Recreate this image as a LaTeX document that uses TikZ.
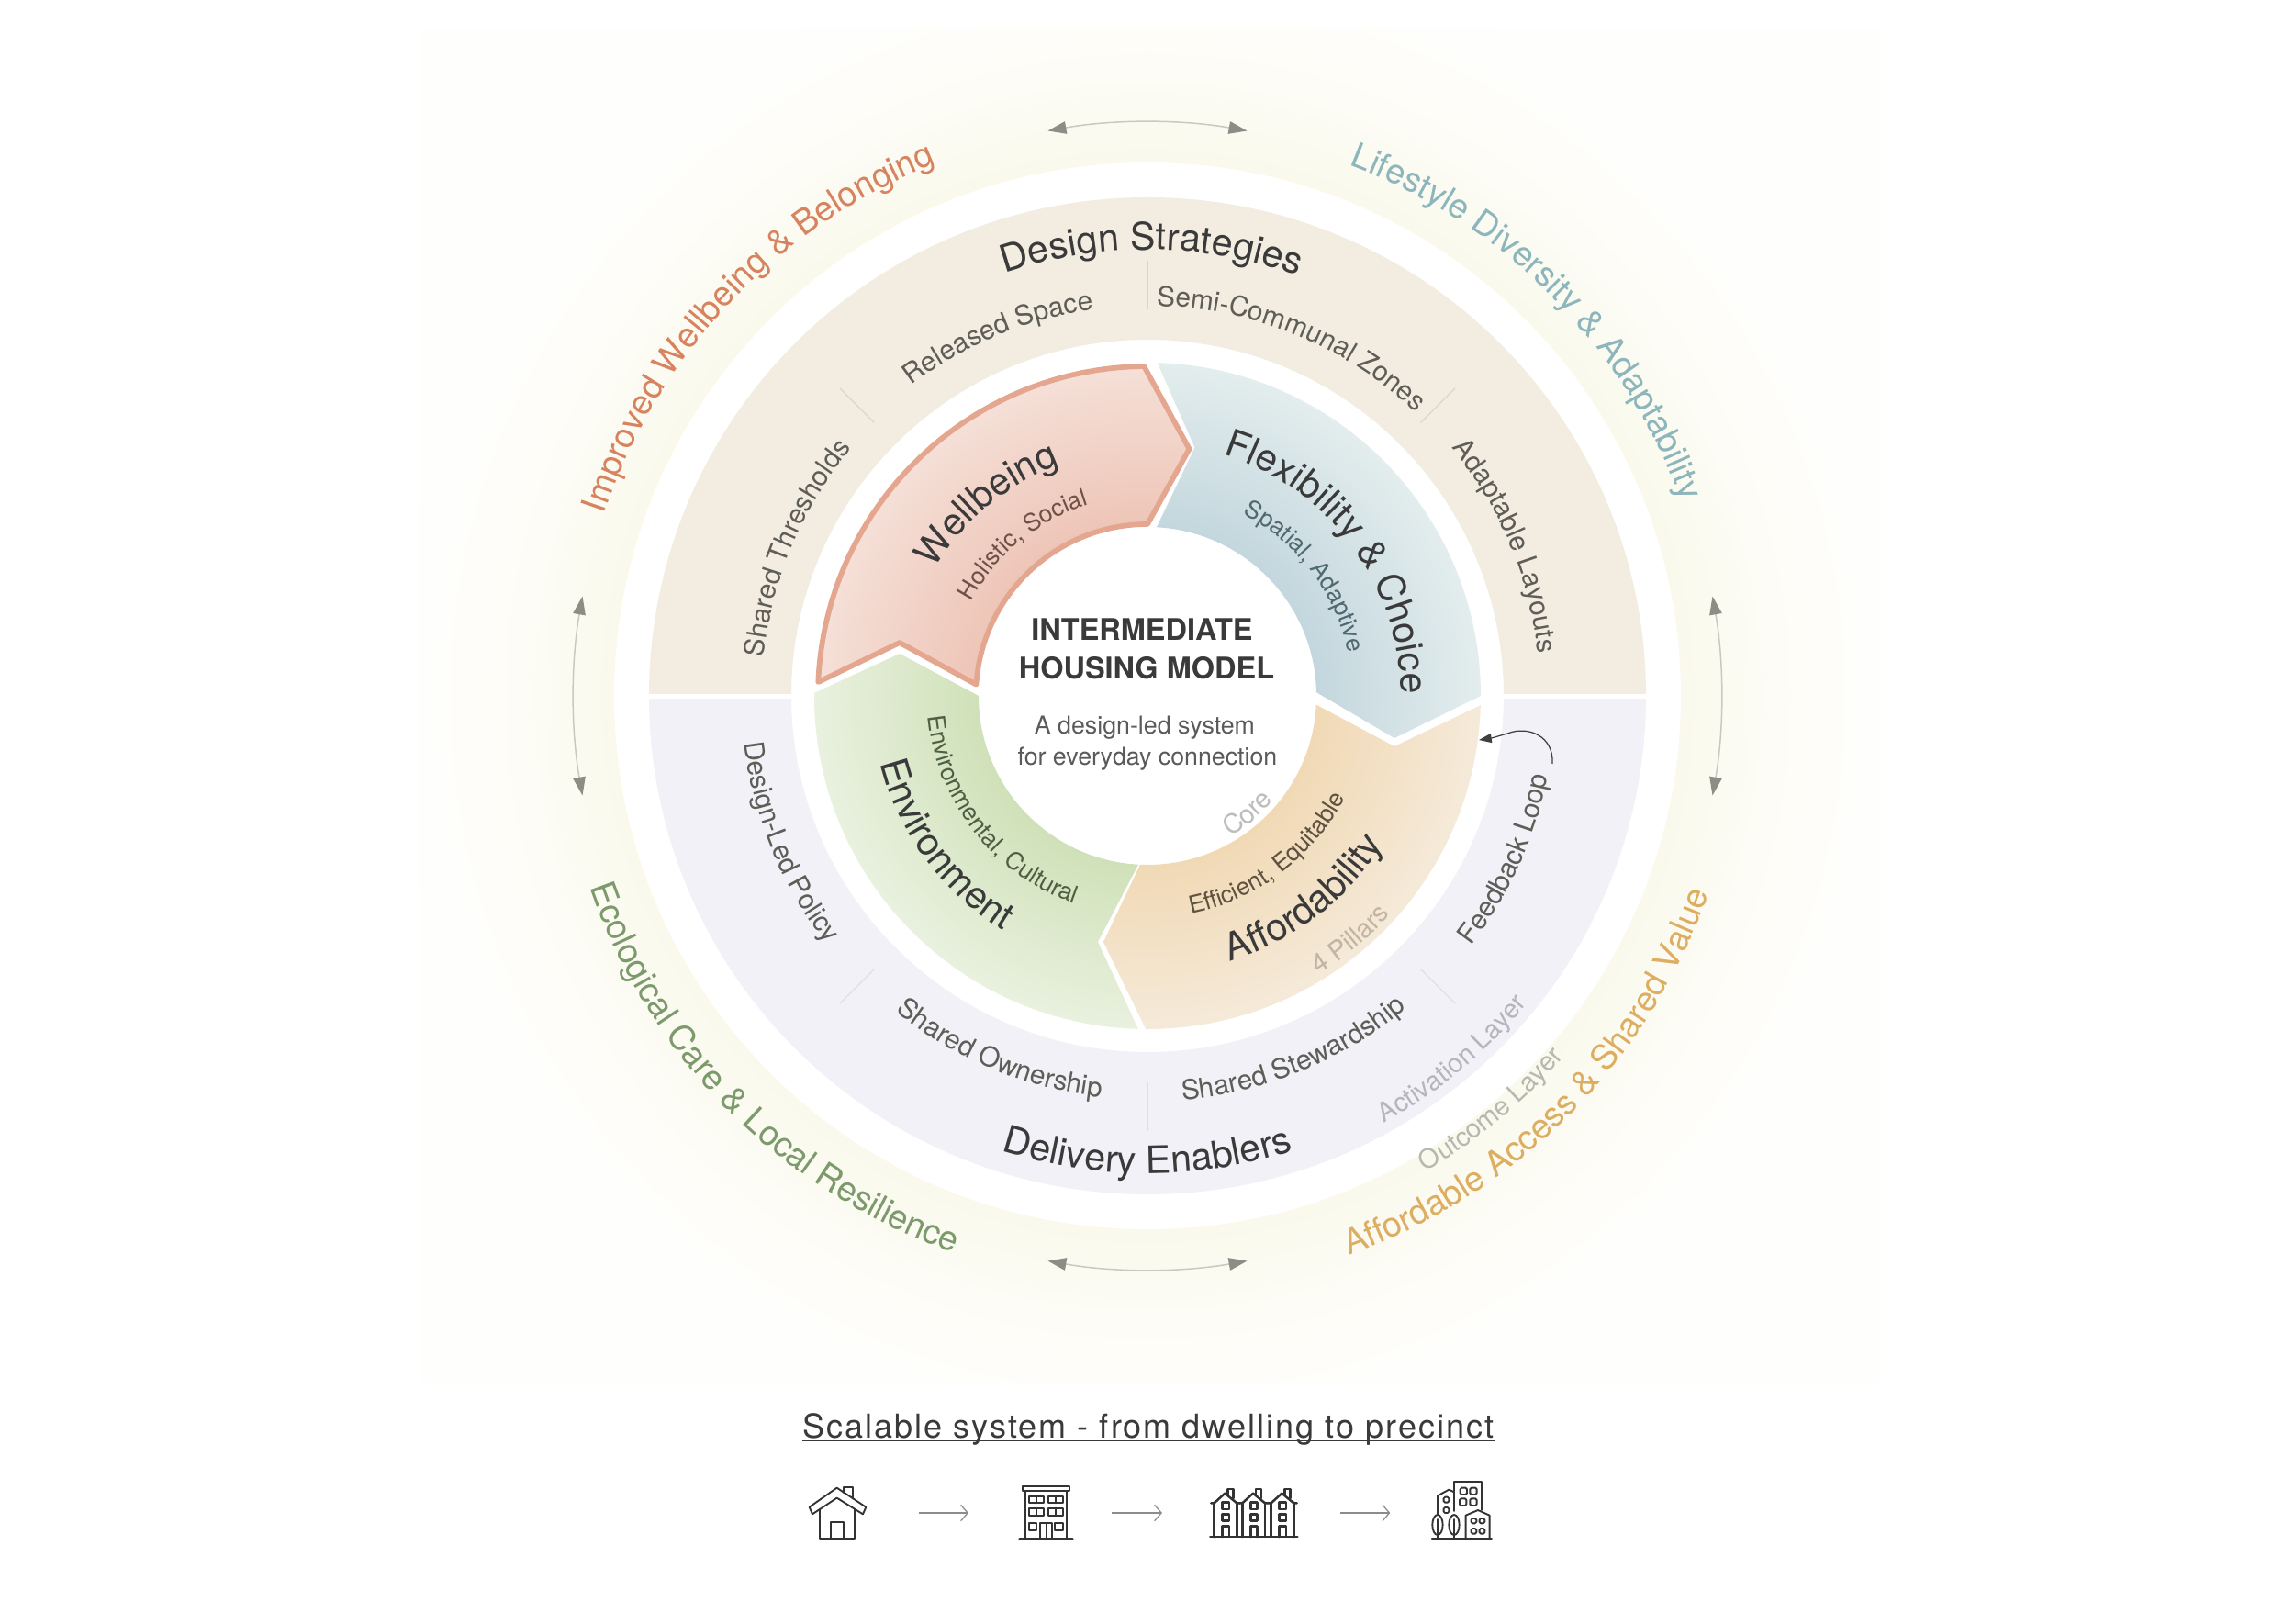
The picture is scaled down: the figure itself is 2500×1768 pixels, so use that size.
\documentclass[tikz,border=0pt]{standalone}
\usepackage{fontspec}
\setmainfont{TeX Gyre Heros}
\newfontfamily\trackfont[LetterSpace=5.6]{TeX Gyre Heros}
\usetikzlibrary{decorations.text,arrows.meta}
\definecolor{glowA}{HTML}{FAF9EC}
\definecolor{glowB}{HTML}{FCFBF2}
\definecolor{glowC}{HTML}{FEFDF9}
\definecolor{glowD}{HTML}{FEFEFD}
\definecolor{beige}{HTML}{F2EDE0}
\definecolor{lav}{HTML}{F1F1F7}
\definecolor{wellI}{HTML}{EEC5B7}\definecolor{wellO}{HTML}{F5E0D8}\definecolor{wellS}{HTML}{E4A68F}
\definecolor{flexI}{HTML}{C4D7DE}\definecolor{flexO}{HTML}{E3EDED}
\definecolor{affI}{HTML}{F1D9B5}\definecolor{affO}{HTML}{F5EAD9}
\definecolor{envI}{HTML}{D0E1B9}\definecolor{envO}{HTML}{E9F1DF}
\definecolor{ink}{HTML}{3A3A3A}
\definecolor{ink2}{HTML}{5E5D58}
\definecolor{ink3}{HTML}{5A5A5A}
\definecolor{fadeA}{HTML}{B5B5BC}
\definecolor{fadeB}{HTML}{B8B8B0}
\definecolor{fadeC}{HTML}{BDBDBD}
\definecolor{fadeD}{HTML}{C2B6A3}
\definecolor{lblWell}{HTML}{D8835F}
\definecolor{lblFlex}{HTML}{8CB6BC}
\definecolor{lblEnv}{HTML}{7C9A6B}
\definecolor{lblAff}{HTML}{DDAE62}
\definecolor{subWell}{HTML}{6F5148}
\definecolor{subFlex}{HTML}{506870}
\definecolor{subEnv}{HTML}{4F5F43}
\definecolor{subAff}{HTML}{5F5240}
\definecolor{tick}{HTML}{D9D6CC}
\definecolor{cyc}{HTML}{C9C9C0}
\definecolor{cycH}{HTML}{8D8D86}
\definecolor{icon}{HTML}{333333}
\pgfdeclareradialshading{glowshade}{\pgfpointorigin}{color(0bp)=(glowA);color(17.7bp)=(glowA);color(19.5bp)=(glowB);color(21.95bp)=(glowC);color(24.4bp)=(glowD);color(50bp)=(glowD)}
\pgfdeclareradialshading{wellshade}{\pgfpointorigin}{color(0bp)=(wellI);color(12.67bp)=(wellI);color(25bp)=(wellO);color(50bp)=(wellO)}
\pgfdeclareradialshading{flexshade}{\pgfpointorigin}{color(0bp)=(flexI);color(12.67bp)=(flexI);color(25bp)=(flexO);color(50bp)=(flexO)}
\pgfdeclareradialshading{affshade}{\pgfpointorigin}{color(0bp)=(affI);color(12.67bp)=(affI);color(25bp)=(affO);color(50bp)=(affO)}
\pgfdeclareradialshading{envshade}{\pgfpointorigin}{color(0bp)=(envI);color(12.67bp)=(envI);color(25bp)=(envO);color(50bp)=(envO)}
\newcommand\fsH{\fontsize{16.5bp}{20bp}\selectfont}
\newcommand\fsO{\fontsize{15bp}{19bp}\selectfont}
\newcommand\fsM{\fontsize{11.9bp}{14bp}\selectfont}
\newcommand\fsS{\fontsize{11.5bp}{13bp}\selectfont}
\newcommand\fsL{\fontsize{10.5bp}{13bp}\selectfont}
% text reading clockwise (letters point outward)
\newcommand\cwtext[4]{\path[decorate,decoration={text along path,text={|#3|#4},text align=center}] (#2+70:#1) arc[start angle=#2+70,end angle=#2-70,radius=#1];}
% text reading counter-clockwise (letters point to the centre)
\newcommand\ccwtext[4]{\path[decorate,decoration={text along path,text={|#3|#4},text align=center}] (#2-70:#1) arc[start angle=#2-70,end angle=#2+70,radius=#1];}
\newcommand\ringseg[2]{\begin{scope}\clip #1;\shade[shading=#2] (0,0) circle[radius=363];\end{scope}}
\def\wellpath{(177.6:359) arc[start angle=177.6,end angle=90.6,radius=359] -- (45.5,269) -- (90:187) arc[start angle=90,end angle=176.2,radius=187] -- (-270,58) -- cycle}
\def\flexpath{(88.3:363) arc[start angle=88.3,end angle=0,radius=363] -- (269,-46) -- (1.2:184) arc[start angle=1.2,end angle=86.9,radius=184] -- (51.5,270.5) -- cycle}
\def\affpath{(-1.6:363) arc[start angle=-1.6,end angle=-90.3,radius=363] -- (-48,-268) -- (-92.5:184) arc[start angle=-92.5,end angle=-3,radius=184] -- (269,-55) -- cycle}
\def\envpath{(268.4:363) arc[start angle=268.4,end angle=179.5,radius=363] -- (-270,46) -- (180:184) arc[start angle=180,end angle=266.9,radius=184] -- (-54,-268) -- cycle}
\tikzset{
  cycarrow/.style={draw=cyc,line width=0.6bp,{Triangle[length=8bp,width=5.4bp,fill=cycH,color=cycH]}-{Triangle[length=8bp,width=5.4bp,fill=cycH,color=cycH]}},
  ticklinet/.style={draw=tick,line width=0.5bp},
  iconline/.style={draw=icon,line width=0.75bp,line join=round,line cap=round},
  iconground/.style={draw=icon,line width=1.1bp,line cap=round},
  scalearrow/.style={draw=black!45,line width=0.5bp,-{Straight Barb[length=3bp,width=7bp]}},
}
\begin{document}
\begin{tikzpicture}[x=0.4bp,y=0.4bp]
\useasboundingbox (-1250,758) rectangle (1250,-1010);
\fill[white] (-1250,758) rectangle (1250,-1010);
% glow
\begin{scope}
\clip (-793,728) rectangle (798,-749);
\fill[glowD] (-793,728) rectangle (798,-749);
\shade[shading=glowshade] (0,0) circle[radius=820];
\end{scope}
\fill[white] (0,0) circle[radius=581];
% middle ring
\begin{scope}
\clip (-600,3) rectangle (600,600);
\fill[beige,even odd rule] (0,0) circle[radius=543] (0,0) circle[radius=388];
\end{scope}
\begin{scope}
\clip (-600,-3) rectangle (600,-600);
\fill[lav,even odd rule] (0,0) circle[radius=543] (0,0) circle[radius=388];
\end{scope}
% ticks
\foreach \a in {45,90,135}{\draw[ticklinet] (\a:421) -- (\a:474);}
\foreach \a in {225,270,315}{\draw[ticklinet,draw=black!12] (\a:421) -- (\a:474);}
% inner segments
\ringseg{\flexpath}{flexshade}
\ringseg{\affpath}{affshade}
\ringseg{\envpath}{envshade}
\ringseg{\wellpath}{wellshade}
\draw[wellS,line width=2.3bp,line join=round] \wellpath;
% arrows of the outer ring
\coordinate (topA) at (100:625);\coordinate (botA) at (260:625);\coordinate (lefA) at (170:625);\coordinate (rigA) at (10:625);
\draw[cycarrow] (topA) arc[start angle=100,end angle=80,radius=625];
\draw[cycarrow] (botA) arc[start angle=260,end angle=280,radius=625];
\draw[cycarrow] (lefA) arc[start angle=170,end angle=190,radius=625];
\draw[cycarrow] (rigA) arc[start angle=10,end angle=-10,radius=625];
% outer labels
\cwtext{624}{136.6}{\fsO\color{lblWell}}{Improved Wellbeing {\&} Belonging}
\cwtext{619}{44.6}{\fsO\color{lblFlex}}{Lifestyle Diversity {\&} Adaptability}
\ccwtext{642}{224.9}{\fsO\color{lblEnv}}{Ecological Care {\&} Local Resilience}
\ccwtext{648}{315.2}{\fsO\color{lblAff}}{Affordable Access {\&} Shared Value}
\ccwtext{600}{309.7}{\fsS\color{fadeB}}{Outcome Layer}
% middle ring labels
\cwtext{486}{89.5}{\fsH\color{ink}}{Design Strategies}
\ccwtext{520}{270}{\fsH\color{ink}}{Delivery Enablers}
\cwtext{425}{112.6}{\fsM\color{ink2}}{Released Space}
\cwtext{425}{67.6}{\fsM\color{ink2}}{Semi-Communal Zones}
\cwtext{420}{157.2}{\fsM\color{ink2}}{Shared Thresholds}
\cwtext{428}{22.7}{\fsM\color{ink2}}{Adaptable Layouts}
\ccwtext{442}{202.2}{\fsM\color{ink2}}{Design-Led Policy}
\ccwtext{440}{247.4}{\fsM\color{ink2}}{Shared Ownership}
\ccwtext{442}{292.3}{\fsM\color{ink2}}{Shared Stewardship}
\ccwtext{445}{335.5}{\fsM\color{ink2}}{Feedback Loop}
\ccwtext{532}{310}{\fsS\color{fadeA}}{Activation Layer}
% inner ring labels
\cwtext{270}{130}{\fsH\color{ink}}{Wellbeing}
\cwtext{218}{129.5}{\fsL\color{subWell}}{Holistic, Social}
\cwtext{276}{36.5}{\fsH\color{ink}}{Flexibility {\&} Choice}
\cwtext{224}{37.2}{\fsL\color{subFlex}}{Spatial, Adaptive}
\ccwtext{300}{216.3}{\fsH\color{ink}}{Environment}
\ccwtext{240}{218}{\fsL\color{subEnv}}{Environmental, Cultural}
\ccwtext{303}{307.5}{\fsH\color{ink}}{Affordability}
\ccwtext{242}{307}{\fsL\color{subAff}}{Efficient, Equitable}
\ccwtext{178}{310.5}{\fsS\color{fadeC}}{Core}
\ccwtext{356}{309.8}{\fsS\color{fadeD}}{4 Pillars}
% centre
\node[anchor=base,font=\fontsize{13bp}{15bp}\bfseries\selectfont,text=ink,inner sep=0] (cA) at (-6,60) {INTERMEDIATE};
\node[anchor=base,font=\fontsize{13bp}{15bp}\bfseries\selectfont,text=ink,inner sep=0] (cB) at (-1,18) {HOUSING MODEL};
\node[anchor=base,font=\fontsize{10.7bp}{14bp}\selectfont,text=ink3,inner sep=0] (cC) at (-3,-41) {A design-led system};
\node[anchor=base,font=\fontsize{10.7bp}{14bp}\selectfont,text=ink3,inner sep=0] (cD) at (0,-75.5) {for everyday connection};
% feedback arrow
\coordinate (fbS) at (441,-74);
\coordinate (fbE) at (361,-48);
\draw[black!75,line width=0.5bp,-{Triangle[length=5.5bp,width=4bp]}] (fbS) .. controls (443,-44) and (415,-32) .. (392,-41) .. controls (385,-43) and (375,-46) .. (fbE);
% title
\node[anchor=base,font=\trackfont\fontsize{14.4bp}{16bp}\selectfont,text=ink,inner sep=0] (title) at (1,-808) {Scalable system - from dwelling to precinct};
\draw[ink,line width=0.55bp] ([yshift=-1.4bp]title.base west) -- ([yshift=-1.4bp]title.base east);
% icons
\begin{scope}[shift={(-390,-842)},x=0.13333bp,y=-0.13333bp]
\draw[iconline] (65,125) -- (155,62) -- (250,125) -- (240,148) -- (155,95) -- (75,148) -- cycle;
\draw[iconline] (178,78) -- (178,60) -- (208,60) -- (208,97);
\draw[iconline] (100,132) -- (100,228) -- (212,228) -- (212,132);
\draw[iconline] (134,228) -- (134,175) -- (176,175) -- (176,228);
\coordinate (arS1) at (422,144);\coordinate (arE1) at (585,144);
\draw[scalearrow] (arS1) -- (arE1);
\coordinate (arS2) at (1053,144);\coordinate (arE2) at (1218,144);
\draw[scalearrow] (arS2) -- (arE2);
\draw[iconline] (762,58) rectangle (915,73);
\draw[iconline] (772,73) -- (772,228) (905,73) -- (905,228);
\draw[iconground] (752,229) -- (925,229);
\foreach \y/\h in {90/112,128/152}{
  \draw[iconline] (782,\y) rectangle (830,\h) (806,\y) -- (806,\h);
  \draw[iconline] (846,\y) rectangle (894,\h) (870,\y) -- (870,\h);
}
\draw[iconline] (782,176) rectangle (808,200) (867,176) rectangle (893,200);
\draw[iconline] (820,228) -- (820,176) -- (858,176) -- (858,228) (839,176) -- (839,228);
\end{scope}
\begin{scope}[shift={(50,-842)},x=0.13333bp,y=-0.13333bp]
\coordinate (arS3) at (480,144);\coordinate (arE3) at (643,144);
\draw[scalearrow] (arS3) -- (arE3);
\draw[iconground] (55,222) -- (340,222);
\foreach \dx in {0,92,186}{
 \draw[iconline,line width=1bp] (68+\dx,110) -- (68+\dx,222) (142+\dx,110) -- (142+\dx,222);
 \draw[iconline,line width=1bp] (58+\dx,112) -- (68+\dx,112) -- (103+\dx,80) -- (142+\dx,112) -- (152+\dx,112);
 \draw[iconline,line width=1bp] (112+\dx,86) -- (112+\dx,66) -- (130+\dx,66) -- (130+\dx,96);
 \draw[iconline,line width=1bp] (95+\dx,110) rectangle (117+\dx,132) (95+\dx,148) rectangle (117+\dx,170);
 \draw[iconline,line width=1bp] (95+\dx,222) -- (95+\dx,188) -- (117+\dx,188) -- (117+\dx,222);
}
\draw[iconground,line width=0.8bp] (780,228) -- (975,228);
\draw[iconline] (852,138) -- (852,42) -- (942,42) -- (942,135);
\draw[iconline,rounded corners=0.6bp] (872,62) rectangle (894,84) (904,62) rectangle (926,84) (870,97) rectangle (892,120) (904,97) rectangle (926,120);
\draw[iconline] (798,150) -- (798,88) -- (835,68) -- (850,75);
\draw[iconline,rounded corners=0.6bp] (818,92) rectangle (835,110) (818,126) rectangle (835,144);
\draw[iconline] (890,228) -- (890,152) -- (930,135) -- (968,152) -- (968,228);
\draw[iconline,rounded corners=0.6bp] (908,162) rectangle (925,178) (935,162) rectangle (952,178) (908,195) rectangle (925,212) (935,195) rectangle (952,212);
\draw[iconline] (798,183) ellipse[x radius=17,y radius=33] (798,165) -- (798,228);
\draw[iconline] (852,183) ellipse[x radius=17,y radius=33] (852,165) -- (852,228);
\end{scope}
\end{tikzpicture}
\end{document}
